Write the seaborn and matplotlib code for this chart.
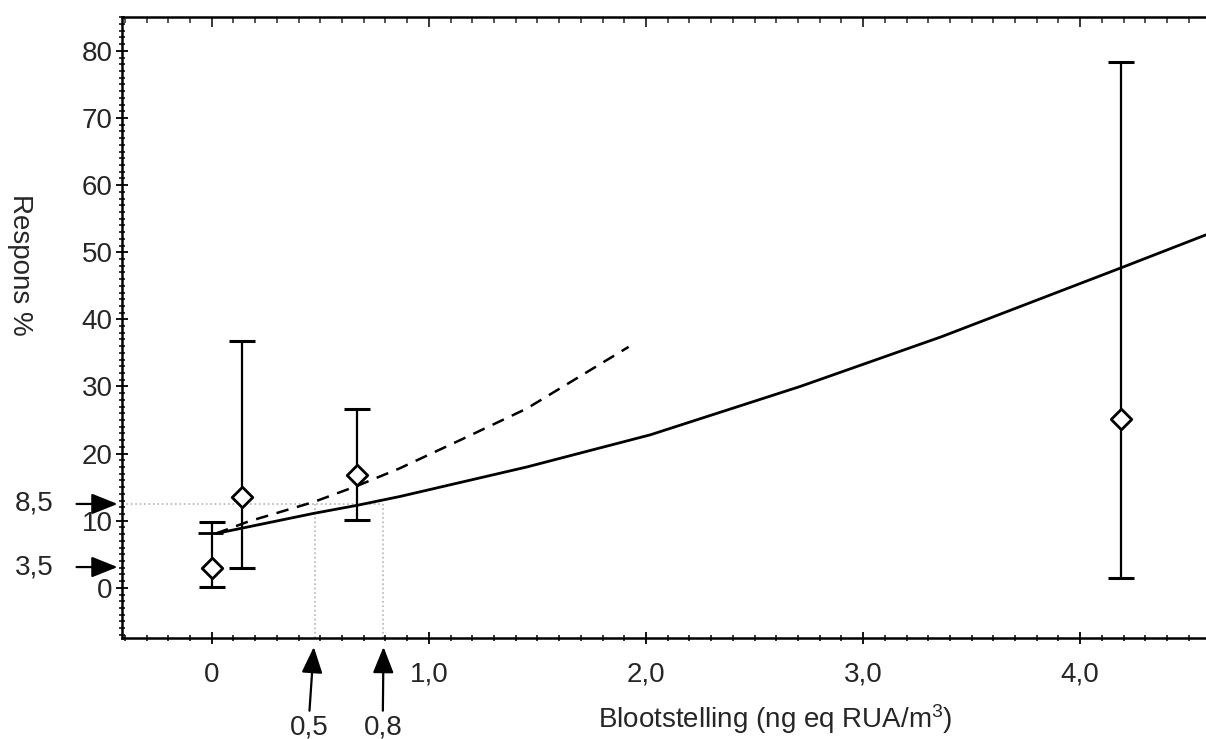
"""
Dose-response chart: response (%) against exposure, with the
two fitted curves and the 0.5 / 0.8 read-off lines.
"""
import matplotlib
matplotlib.use('Agg')
import numpy as np
import pandas as pd
import matplotlib.pyplot as plt
from matplotlib.ticker import MultipleLocator, FixedLocator, FixedFormatter
import seaborn as sns

# measured groups
exposure = [0.0, 0.14, 0.67, 4.19]
response = [2.9, 13.6, 16.8, 25.2]
ci_low = [0.15, 3.0, 10.1, 1.4]
ci_high = [9.8, 36.8, 26.6, 78.4]

# fitted curves
fit_x = [0.02, 0.47, 0.67, 0.865, 1.45, 2.02, 2.71, 3.36, 4.19, 4.58]
fit_y = [8.1, 11.1, 12.3, 13.6, 18.0, 22.8, 30.0, 37.4, 47.7, 52.6]
alt_x = [0.02, 0.17, 0.47, 0.67, 0.865, 1.15, 1.45, 1.92]
alt_y = [8.1, 9.9, 12.8, 15.2, 17.8, 22.1, 26.7, 35.9]

# read-off levels
level_bg = 3.1
level_total = 12.5
read_x = [0.475, 0.79]
read_labels = ['0,5', '0,8']
level_labels = ['3,5', '8,5']

x_ticks = [0, 1, 2, 3, 4]
x_ticklabels = ['0', '1,0', '2,0', '3,0', '4,0']
y_ticks = [0, 10, 20, 30, 40, 50, 60, 70, 80]


def add_arrow(ax, tip, tail):
    ax.annotate('', xy=tip, xytext=tail, xycoords='data',
                arrowprops=dict(arrowstyle='-|>,head_length=0.8,head_width=0.32',
                                mutation_scale=20, color='black', lw=1.6,
                                shrinkA=0, shrinkB=0),
                annotation_clip=False)


if __name__ == '__main__':

    sns.set_style('ticks')
    plt.rcParams['font.family'] = ['Liberation Sans', 'DejaVu Sans']
    plt.rcParams['mathtext.fontset'] = 'custom'
    plt.rcParams['mathtext.rm'] = 'Liberation Sans'
    plt.rcParams['mathtext.it'] = 'Liberation Sans'
    fs = 20

    fig = plt.figure(figsize=(12.06, 7.39), dpi=100)
    ax = fig.add_axes([0.1009, 0.1373, 0.9118, 0.8393])
    ax.set_xlim(-0.415, 4.65)
    ax.set_ylim(-7.4, 85)

    # dotted read-off lines
    grey = '#b5b5b5'
    ax.plot([-0.415, read_x[1]], [level_total, level_total], ls=':', color=grey, lw=1.2)
    for rx in read_x:
        ax.plot([rx, rx], [-7.4, level_total], ls=':', color=grey, lw=1.2)

    fits = pd.DataFrame({'x': fit_x, 'y': fit_y})
    alts = pd.DataFrame({'x': alt_x, 'y': alt_y})
    sns.lineplot(data=fits, x='x', y='y', ax=ax, color='black', lw=2.0, sort=True)
    sns.lineplot(data=alts, x='x', y='y', ax=ax, color='black', lw=1.8, sort=True,
                 dashes=False)
    ax.lines[-1].set_dashes([5, 3.5])
    ax.plot([fit_x[0] - 0.03], [fit_y[0]], marker='_', ms=18, mew=2, color='black')

    resp = np.array(response)
    yerr = [resp - np.array(ci_low), np.array(ci_high) - resp]
    ax.errorbar(exposure, response, yerr=yerr, fmt='none', ecolor='black',
                elinewidth=1.6, capsize=9.4, capthick=2.2, zorder=3)
    points = pd.DataFrame({'x': exposure, 'y': response})
    sns.scatterplot(data=points, x='x', y='y', ax=ax, marker='D', s=110,
                    facecolor='white', edgecolor='black', linewidth=2.0, zorder=4)

    # arrows on the y side
    add_arrow(ax, (-0.434, level_total), (-0.623, level_total))
    add_arrow(ax, (-0.434, level_bg), (-0.623, level_bg))
    ax.text(-0.817, level_total, level_labels[1], fontsize=fs, ha='center', va='center')
    ax.text(-0.817, level_bg, level_labels[0], fontsize=fs, ha='center', va='center')

    # arrows on the x side
    add_arrow(ax, (0.47, -8.8), (0.45, -18.3))
    add_arrow(ax, (0.791, -8.8), (0.788, -18.3))
    ax.text(0.45, -20.8, read_labels[0], fontsize=fs, ha='center', va='center')
    ax.text(0.788, -20.8, read_labels[1], fontsize=fs, ha='center', va='center')

    # ticks
    ax.xaxis.set_major_locator(FixedLocator(x_ticks))
    ax.xaxis.set_major_formatter(FixedFormatter(x_ticklabels))
    ax.xaxis.set_minor_locator(MultipleLocator(0.1))
    ax.yaxis.set_major_locator(FixedLocator(y_ticks))
    ax.yaxis.set_minor_locator(MultipleLocator(1))
    ax.tick_params(axis='both', which='major', direction='inout', length=9, width=1.3,
                   labelsize=fs, color='black')
    ax.tick_params(axis='both', which='minor', direction='inout', length=5, width=1.1,
                   color='black')
    ax.tick_params(axis='x', which='major', pad=13)
    ax.tick_params(axis='y', which='major', pad=2)

    top = ax.secondary_xaxis('top')
    top.xaxis.set_major_locator(FixedLocator(x_ticks))
    top.xaxis.set_minor_locator(MultipleLocator(0.1))
    top.tick_params(which='major', direction='in', length=7, width=1.3, labeltop=False)
    top.tick_params(which='minor', direction='in', length=4, width=1.1)

    for side in ['left', 'bottom', 'top']:
        ax.spines[side].set_linewidth(1.8)
        ax.spines[side].set_color('black')
    ax.spines['right'].set_visible(False)
    top.spines['top'].set_visible(False)

    ax.set_xlabel('Blootstelling (ng eq RUA/m$^3$)', fontsize=fs)
    ax.xaxis.set_label_coords(0.594, -0.104)
    ax.set_ylabel('Respons %', fontsize=fs, rotation=-90, va='center')
    ax.yaxis.set_label_coords(-0.0925, 0.601)

    fig.savefig('out.png', dpi=100, facecolor='white')
